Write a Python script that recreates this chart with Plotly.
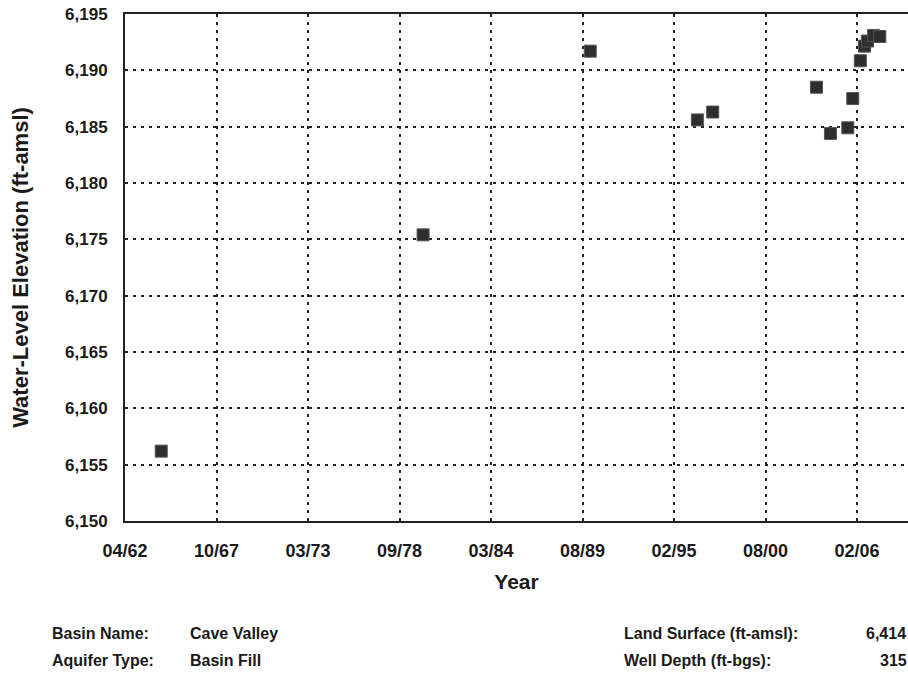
import plotly.graph_objects as go

# Data
dates = ["1964-06-15", "1980-02-15", "1990-02-15", "1996-07-15", "1997-06-15",
         "2003-09-01", "2004-07-01", "2005-07-15", "2005-11-01", "2006-04-15",
         "2006-07-15", "2006-09-20", "2007-02-01", "2007-06-15"]
elevations = [6156.2, 6175.4, 6191.7, 6185.6, 6186.3,
              6188.5, 6184.4, 6184.9, 6187.5, 6190.85,
              6192.15, 6192.6, 6193.1, 6193.0]

x_tick_dates = ["1962-04-15", "1967-10-06", "1973-03-28", "1978-09-18", "1984-03-10",
                "1989-08-31", "1995-02-21", "2000-08-13", "2006-02-03"]
x_tick_labels = ["04/62", "10/67", "03/73", "09/78", "03/84", "08/89", "02/95", "08/00", "02/06"]
y_tick_vals = [6150, 6155, 6160, 6165, 6170, 6175, 6180, 6185, 6190, 6195]

x_range = ["1962-04-15", "2009-02-20"]
y_range = [6150, 6195]

info_left_labels = ["Basin Name:", "Aquifer Type:"]
info_left_values = ["Cave Valley", "Basin Fill"]
info_right_labels = ["Land Surface (ft-amsl):", "Well Depth (ft-bgs):"]
info_right_values = ["6,414", "315"]

FONT = "Liberation Sans, Arial, sans-serif"
INK = "#1a1a1a"

W, H = 908, 673
ML, MR, MT, MB = 125, 0, 14, 152

fig = go.Figure()
fig.add_trace(go.Scatter(
    x=dates, y=elevations, mode="markers",
    marker=dict(symbol="square", size=12, color="#2e2e2e",
                line=dict(color="#555555", width=1)),
    showlegend=False, cliponaxis=False,
))

fig.update_layout(
    width=W, height=H,
    margin=dict(l=ML, r=MR, t=MT, b=MB),
    paper_bgcolor="white", plot_bgcolor="white",
    font=dict(family=FONT, color=INK),
    xaxis=dict(
        type="date", range=x_range,
        tickmode="array", tickvals=x_tick_dates, ticktext=x_tick_labels,
        tickfont=dict(size=18, family=FONT, color=INK, weight="bold"),
        ticklabelstandoff=12,
        showgrid=True, gridcolor="#222222", gridwidth=1.5, griddash="3px,5px",
        showline=True, linecolor="#222222", linewidth=2, mirror=True,
        ticks="", zeroline=False,
        title=dict(text="<b>Year</b>", font=dict(size=21, family=FONT, color=INK),
                   standoff=15),
    ),
    yaxis=dict(
        range=y_range, tickmode="array", tickvals=y_tick_vals,
        tickformat=",d",
        tickfont=dict(size=17, family=FONT, color=INK, weight="bold"),
        ticklabelstandoff=12,
        showgrid=True, gridcolor="#222222", gridwidth=1.5, griddash="3px,5px",
        showline=True, linecolor="#222222", linewidth=2, mirror=False,
        ticks="", zeroline=False,
        title=dict(text="<b>Water-Level Elevation (ft-amsl)</b>",
                   font=dict(size=22, family=FONT, color=INK), standoff=30),
    ),
)

plot_w = W - ML - MR
plot_h = H - MT - MB


def px_to_paper(px, py):
    return (px - ML) / plot_w, (H - MB - py) / plot_h


def add_text(txt, px, py):
    xp, yp = px_to_paper(px, py)
    fig.add_annotation(x=xp, y=yp, xref="paper", yref="paper", text=f"<b>{txt}</b>",
                       showarrow=False, xanchor="left", yanchor="middle",
                       font=dict(size=16, family=FONT, color=INK))


rows_y = [633, 660]
for lab, val, py in zip(info_left_labels, info_left_values, rows_y):
    add_text(lab, 50, py)
    add_text(val, 188, py)
for lab, val, py, vx in zip(info_right_labels, info_right_values, rows_y, [864, 878]):
    add_text(lab, 622, py)
    add_text(val, vx, py)

fig.write_html("out.html", config={"displayModeBar": False},
               post_script="document.body.style.margin='0';")
